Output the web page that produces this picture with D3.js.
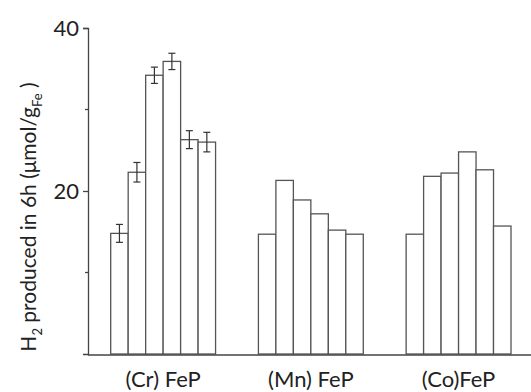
<!DOCTYPE html>
<html>
<head>
<meta charset="utf-8">
<script src="https://cdn.jsdelivr.net/npm/d3@7"></script>
<style>
  body { margin: 0; background: #fff; }
  text { font-family: Lato, "Open Sans", sans-serif; fill: #222; }
</style>
</head>
<body>
<div id="chart"></div>
<script>
// データ
let groups = ["(Cr) FeP", "(Mn) FeP", "(Co)FeP"]
let crValues = [14.8, 22.3, 34.2, 35.9, 26.3, 26.0]
let crErrors = [1.1, 1.2, 1.0, 1.0, 1.1, 1.2]
let mnValues = [14.7, 21.3, 18.9, 17.2, 15.2, 14.7]
let coValues = [14.7, 21.8, 22.2, 24.8, 22.6, 15.7]
let yTicks = [20, 40]
let yMinorTicks = [10, 30]

let series = [
  { group: groups[0], values: crValues, errors: crErrors },
  { group: groups[1], values: mnValues, errors: null },
  { group: groups[2], values: coValues, errors: null },
]

let svg = d3.select("#chart")
  .append("svg")
  .attr("width", 531)
  .attr("height", 392)

// スケール
let x0 = d3.scaleBand().domain(groups).range([110.7, 511]).paddingInner(0.29).paddingOuter(0)
let x1 = d3.scaleBand().domain(d3.range(6)).range([0, x0.bandwidth()]).padding(0)
let y = d3.scaleLinear().domain([0, 40]).range([354, 28])

let axisColor = "#444"
let barColor = "#555"

// 棒グラフ
let g = svg.selectAll("g.grp")
  .data(series)
  .enter()
  .append("g")
  .attr("class", "grp")
  .attr("transform", d => `translate(${x0(d.group)},0)`)

g.selectAll("rect")
  .data(d => d.values.map((v, i) => ({ i: i, v: v })))
  .enter()
  .append("rect")
  .attr("x", d => x1(d.i))
  .attr("y", d => y(d.v))
  .attr("width", x1.bandwidth())
  .attr("height", d => y(0) - y(d.v))
  .attr("fill", "#fff")
  .attr("stroke", barColor)
  .attr("stroke-width", 1.3)

// エラーバー
let eb = g.filter(d => d.errors)
  .selectAll("g.err")
  .data(d => d.values.map((v, i) => ({ i: i, v: v, e: d.errors[i] })))
  .enter()
  .append("g")
  .attr("class", "err")
  .attr("stroke", "#333")
  .attr("stroke-width", 1.2)

eb.append("line")
  .attr("x1", d => x1(d.i) + x1.bandwidth() / 2)
  .attr("x2", d => x1(d.i) + x1.bandwidth() / 2)
  .attr("y1", d => y(d.v + d.e))
  .attr("y2", d => y(d.v - d.e))
eb.selectAll("line.cap")
  .data(d => [{ d: d, v: d.v + d.e }, { d: d, v: d.v - d.e }])
  .enter()
  .append("line")
  .attr("class", "cap")
  .attr("x1", c => x1(c.d.i) + x1.bandwidth() / 2 - 3.5)
  .attr("x2", c => x1(c.d.i) + x1.bandwidth() / 2 + 3.5)
  .attr("y1", c => y(c.v))
  .attr("y2", c => y(c.v))

// Y軸
let gy = svg.append("g")
  .attr("transform", "translate(88,0)")
  .call(d3.axisLeft(y).tickValues(yTicks).tickSize(5).tickPadding(4).tickFormat(d3.format("d")))
gy.select(".domain").attr("stroke", axisColor).attr("stroke-width", 1.3)
gy.selectAll(".tick line").attr("stroke", axisColor).attr("stroke-width", 1.3)
gy.selectAll(".tick text")
  .attr("font-size", "22px")
  .attr("font-family", "Lato, 'Open Sans', sans-serif")
  .attr("fill", "#222")

gy.selectAll("line.minor")
  .data(yMinorTicks)
  .enter()
  .append("line")
  .attr("class", "minor")
  .attr("x1", -3)
  .attr("x2", 0)
  .attr("y1", d => y(d))
  .attr("y2", d => y(d))
  .attr("stroke", axisColor)
  .attr("stroke-width", 1.3)

// X軸
svg.append("line")
  .attr("x1", 88)
  .attr("x2", 531)
  .attr("y1", y(0) + 1)
  .attr("y2", y(0) + 1)
  .attr("stroke", axisColor)
  .attr("stroke-width", 1.4)

svg.selectAll("text.cat")
  .data(groups)
  .enter()
  .append("text")
  .attr("class", "cat")
  .attr("x", d => x0(d) + x0.bandwidth() / 2)
  .attr("y", 387)
  .attr("text-anchor", "middle")
  .attr("font-size", "22px")
  .text(d => d)

// ラベル（Y軸）
let yl = svg.append("text")
  .attr("transform", "translate(36,217) rotate(-90)")
  .attr("text-anchor", "middle")
  .attr("font-size", "21px")
yl.append("tspan").text("H")
yl.append("tspan").attr("font-size", "13px").attr("dy", 6).text("2")
yl.append("tspan").attr("dy", -6).text(" produced in 6h (\u03bcmol/g")
yl.append("tspan").attr("font-size", "13px").attr("dy", 6).text("Fe")
yl.append("tspan").attr("dy", -6).text(" )")
</script>
</body>
</html>
